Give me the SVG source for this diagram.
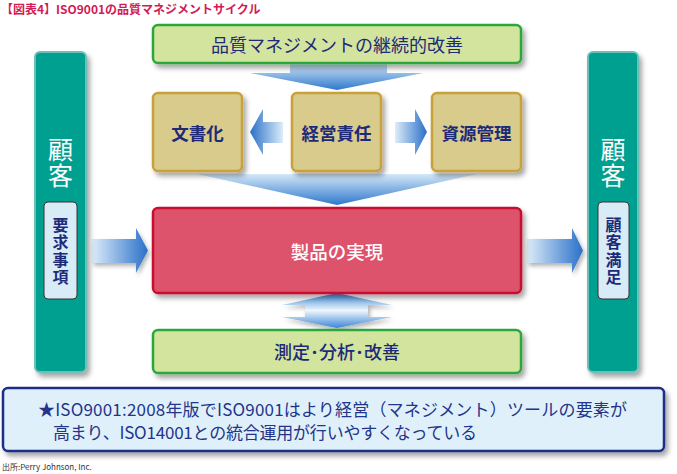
<svg xmlns="http://www.w3.org/2000/svg" width="677" height="474" viewBox="0 0 677 474">
<defs>
<style>
text{font-family:"Noto Sans CJK JP","Noto Sans",sans-serif;}
.navy{fill:#1e2a78;}
.green{fill:#d3e49e;stroke:#2ca83a;stroke-width:2.5;}
.tan{fill:#d9cb8c;stroke:#c9a13a;stroke-width:2.5;}
.red{fill:#de536c;stroke:#c8102e;stroke-width:2.5;}
.teal{fill:#00a091;stroke:#6cc0b8;stroke-width:2;}
.inner{fill:#d8ecf8;stroke:#333;stroke-width:1;}
.note{fill:#e0f0fb;stroke:#1a2e88;stroke-width:2.5;}
.lbl{font-size:17.5px;font-weight:bold;text-anchor:middle;}
.vt{font-size:16px;font-weight:bold;writing-mode:vertical-rl;letter-spacing:1.25px;}
.cust{font-size:25px;fill:#fff;writing-mode:vertical-rl;letter-spacing:1px;}
</style>
<filter id="sh" x="-10%" y="-10%" width="130%" height="140%">
<feDropShadow dx="3" dy="4" stdDeviation="2.5" flood-color="#000" flood-opacity="0.35"/>
</filter>
<filter id="sh2" x="-10%" y="-10%" width="130%" height="140%">
<feDropShadow dx="2" dy="3" stdDeviation="2" flood-color="#000" flood-opacity="0.3"/>
</filter>
<linearGradient id="gDown" x1="0" y1="0" x2="0" y2="1">
<stop offset="0" stop-color="#d4e8f8"/>
<stop offset="1" stop-color="#2f78cc"/>
</linearGradient>
<linearGradient id="gLeft" x1="1" y1="0" x2="0" y2="0">
<stop offset="0" stop-color="#dcecf9"/>
<stop offset="1" stop-color="#2a70c8"/>
</linearGradient>
<linearGradient id="gRight" x1="0" y1="0" x2="1" y2="0">
<stop offset="0" stop-color="#dcecf9"/>
<stop offset="1" stop-color="#2a70c8"/>
</linearGradient>
<linearGradient id="gDouble" x1="0" y1="0" x2="0" y2="1">
<stop offset="0" stop-color="#3a86d6"/>
<stop offset="0.5" stop-color="#eef7fd"/>
<stop offset="1" stop-color="#3a86d6"/>
</linearGradient>
</defs>
<rect width="677" height="474" fill="#fff"/>
<text x="1" y="14" font-size="12" font-weight="bold" fill="#d21a55">【図表4】ISO9001の品質マネジメントサイクル</text>

<g id="connectors">
<polygon points="290,63 387,63 387,73 423,73 337,90 250,73 290,73" fill="url(#gDown)"/>
<polygon points="283,122 263,122 263,109 250,132 263,155 263,143 283,143" fill="url(#gLeft)"/>
<polygon points="395,122 415,122 415,109 427,132 415,155 415,143 395,143" fill="url(#gRight)"/>
<polygon points="197,174 477,174 337,205" fill="url(#gDown)"/>
<polygon points="92,239 136,239 136,228 148,250.5 136,273 136,263 92,263" fill="url(#gRight)" filter="url(#sh2)"/>
<polygon points="527,239 572,239 572,228 583,250.5 572,273 572,263 527,263" fill="url(#gRight)" filter="url(#sh2)"/>
<polygon points="337,293 392,305 368,305 368,317 392,317 337,328 282,317 305,317 305,305 282,305" fill="url(#gDouble)" filter="url(#sh2)"/>
</g>

<g id="node-kaizen">
<rect class="green" x="153" y="25" width="368" height="38" rx="5" filter="url(#sh)"/>
<text class="navy" x="337" y="51.5" font-size="18" text-anchor="middle">品質マネジメントの継続的改善</text>
</g>
<g id="node-bunsho">
<rect class="tan" x="153" y="93" width="89" height="78" rx="5" filter="url(#sh)"/>
<text class="navy lbl" x="197.5" y="139.5">文書化</text>
</g>
<g id="node-keiei">
<rect class="tan" x="292" y="93" width="89" height="78" rx="5" filter="url(#sh)"/>
<text class="navy lbl" x="336.5" y="139.5">経営責任</text>
</g>
<g id="node-shigen">
<rect class="tan" x="432" y="93" width="89" height="78" rx="5" filter="url(#sh)"/>
<text class="navy lbl" x="476.5" y="139.5">資源管理</text>
</g>
<g id="node-seihin">
<rect class="red" x="153" y="208" width="368" height="85" rx="5" filter="url(#sh)"/>
<text x="337" y="259" font-size="18.5" fill="#fff" text-anchor="middle" font-weight="500">製品の実現</text>
</g>
<g id="node-sokutei">
<rect class="green" x="153" y="330" width="368" height="43" rx="5" filter="url(#sh)"/>
<text class="navy" x="337" y="358.5" font-size="18" text-anchor="middle" font-weight="500">測定･分析･改善</text>
</g>
<g id="node-customer-left">
<rect class="teal" x="35" y="52" width="51" height="320" rx="5" filter="url(#sh)"/>
<text class="cust" x="60.5" y="137">顧客</text>
<rect class="inner" x="44" y="202" width="33" height="97" rx="4"/>
<text class="navy vt" x="60.5" y="217">要求事項</text>
</g>
<g id="node-customer-right">
<rect class="teal" x="588" y="52" width="50" height="320" rx="5" filter="url(#sh)"/>
<text class="cust" x="613" y="137">顧客</text>
<rect class="inner" x="598" y="202" width="31" height="97" rx="4"/>
<text class="navy vt" x="613.5" y="217">顧客満足</text>
</g>
<g id="node-note">
<rect class="note" x="3" y="388" width="661" height="63" rx="5" filter="url(#sh)"/>
<text x="38" y="415.5" font-size="17" fill="#22358a" textLength="589" lengthAdjust="spacing">★ISO9001:2008年版でISO9001はより経営（マネジメント）ツールの要素が</text>
<text x="53" y="438.5" font-size="17" fill="#22358a" textLength="424" lengthAdjust="spacing">高まり、ISO14001との統合運用が行いやすくなっている</text>
</g>
<text x="2" y="470" font-size="8" fill="#333" font-family="'Liberation Sans','Noto Sans CJK JP',sans-serif">出所:Perry Johnson, Inc.</text>
</svg>
